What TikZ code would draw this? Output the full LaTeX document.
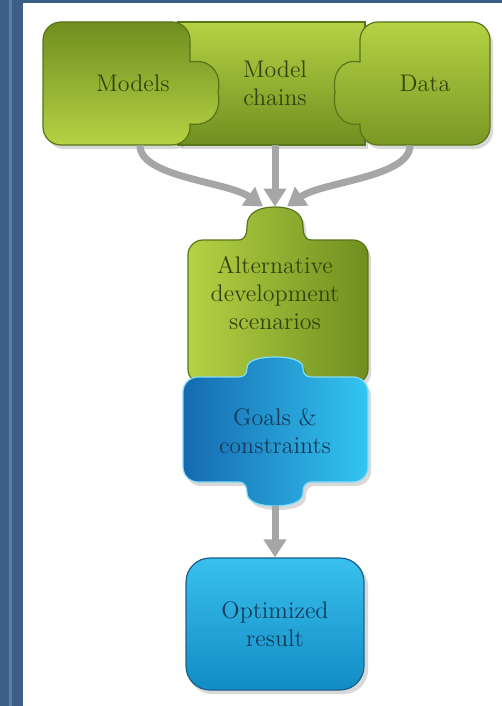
\documentclass[tikz,border=0pt]{standalone}
\usetikzlibrary{arrows.meta,backgrounds}
\pgfdeclarelayer{shapes}
\pgfsetlayers{background,shapes,main}
\definecolor{pageblue}{HTML}{3B5F87}
\definecolor{stripe}{HTML}{5A7EA6}
\definecolor{gdark}{HTML}{6F8E1F}
\definecolor{glight}{HTML}{B5D244}
\definecolor{gedge}{HTML}{5A7419}
\definecolor{gtext}{HTML}{34420E}
\definecolor{bdark}{HTML}{1569B0}
\definecolor{blight}{HTML}{33C6F2}
\definecolor{bedge}{HTML}{1A5F8E}
\definecolor{btext}{HTML}{173B5C}
\definecolor{otop}{HTML}{38C0EC}
\definecolor{obot}{HTML}{118CC4}
\definecolor{arrgray}{HTML}{A6A6A6}
\newcommand\pathchains{(178,22) -- (365,22) -- (365,145) -- (178,145) -- cycle}
\newcommand\pathmodels{(61,22) -- (172,22) arc(-90:0:18) -- (190,62) .. controls (212,58) and (222,75) .. (218,92) .. controls (222,110) and (212,127) .. (190,124) -- (190,127) arc(0:90:18) -- (61,145) arc(90:180:18) -- (43,40) arc(180:270:18) -- cycle}
\newcommand\pathdata{(378,22) -- (472,22) arc(-90:0:18) -- (490,127) arc(0:90:18) -- (378,145) arc(90:180:18) -- (360,124) .. controls (340,127) and (332,110) .. (335,92) .. controls (332,75) and (340,58) .. (360,62) -- (360,40) arc(180:270:18) -- cycle}
\newcommand\pathalt{(203,240) -- (238,240) .. controls (246,240) and (247,233) .. (247,226) .. controls (247,212) and (260,207) .. (275,207) .. controls (290,207) and (303,212) .. (303,226) .. controls (303,233) and (304,240) .. (312,240) -- (353,240) arc(-90:0:15) -- (368,369) arc(0:90:15) -- (203,384) arc(90:180:15) -- (188,255) arc(180:270:15) -- cycle}
\newcommand\pathgoals{(198,377) -- (238,377) .. controls (246,377) and (247,372) .. (247,368) .. controls (247,360) and (260,357) .. (275,357) .. controls (290,357) and (303,360) .. (303,368) .. controls (303,372) and (304,377) .. (312,377) -- (353,377) arc(-90:0:15) -- (368,467) arc(0:90:15) -- (312,482) .. controls (304,482) and (303,488) .. (303,493) .. controls (303,502) and (290,506) .. (275,506) .. controls (260,506) and (247,502) .. (247,493) .. controls (247,488) and (246,482) .. (238,482) -- (198,482) arc(90:180:15) -- (183,392) arc(180:270:15) -- cycle}
\begin{document}
\begin{tikzpicture}[x=0.5pt,y=-0.5pt,
  boxtext/.style={align=center, font=\fontsize{12}{14}\selectfont, inner sep=0pt},
  gtxt/.style={boxtext, text=gtext},
  btxt/.style={boxtext, text=btext},
  arr/.style={draw=arrgray, line width=3.5pt, -{Triangle[width=11pt,length=9pt]}},
  edgeline/.style={line width=0.6pt},
  shadowfill/.style={fill=black, opacity=0.15, shift={(3,4)}}]
\useasboundingbox (0,0) rectangle (502,706);
\begin{scope}[on background layer]
  \fill[white] (0,0) rectangle (502,706);
  \fill[pageblue] (0,0) rectangle (23,706);
  \fill[pageblue] (0,0) rectangle (502,3.5);
  \fill[stripe] (9,0) rectangle (11.5,706);
\end{scope}
\node[gtxt, minimum width=90pt, minimum height=61.5pt] (models) at (133,83.5) {Models};
\node[gtxt, minimum width=85pt, minimum height=61.5pt] (chains) at (275,83.5) {Model\\chains};
\node[gtxt, minimum width=65pt, minimum height=61.5pt] (data) at (425,83.5) {Data};
\node[gtxt, minimum width=90pt, minimum height=86.5pt] (alt) at (275,293.5) {Alternative\\development\\scenarios};
\node[btxt, minimum width=92.5pt, minimum height=74.5pt] (goals) at (275,431.5) {Goals \&\\constraints};
\fill[shadowfill, rounded corners=12pt] (185,558) rectangle (365,690);
\node[btxt, draw=bedge, edgeline, rounded corners=12pt, top color=otop, bottom color=obot, minimum width=89pt, minimum height=66pt] (opt) at (275,624) {Optimized\\result};
\begin{pgfonlayer}{shapes}
  \fill[shadowfill] \pathchains;
  \fill[shadowfill] \pathdata;
  \fill[shadowfill] \pathmodels;
  \path[top color=glight, bottom color=gdark, draw=gedge, edgeline] \pathchains;
  \path[top color=gdark, bottom color=glight, draw=gedge, edgeline] \pathmodels;
  \path[top color=glight, bottom color=gdark!85!glight, draw=gedge, edgeline] \pathdata;
  \fill[shadowfill] \pathalt;
  \path[left color=glight, right color=gdark, draw=gedge, edgeline] \pathalt;
  \fill[shadowfill] \pathgoals;
  \path[left color=bdark, right color=blight, draw=blight!60!white, edgeline] \pathgoals;
\end{pgfonlayer}
\draw[arr] ([xshift=3.5pt]models.south) .. controls +(0,32) and +(-35,-25) .. ([xshift=-6pt]alt.north);
\draw[arr] (chains.south) -- (alt.north);
\draw[arr] ([xshift=-7.5pt]data.south) .. controls +(0,32) and +(35,-25) .. ([xshift=6pt]alt.north);
\draw[arr] (goals.south) -- (opt.north);
\end{tikzpicture}
\end{document}
